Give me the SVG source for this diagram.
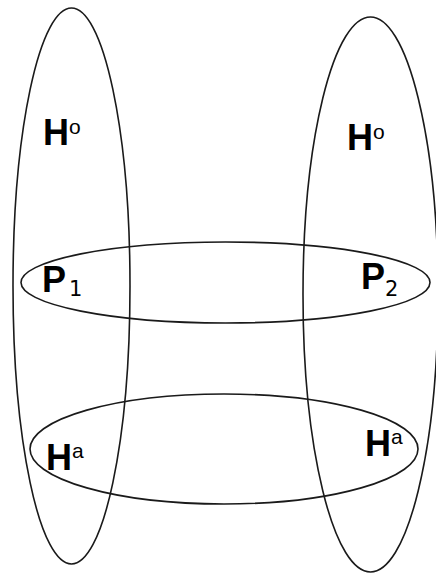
<svg xmlns="http://www.w3.org/2000/svg" width="436" height="574" viewBox="0 0 436 574">
<style>
.e{fill:none;stroke:#1a1a1a;stroke-width:1.6}
.t{font-family:"Liberation Sans",Arial,sans-serif;font-weight:bold;font-size:36px;fill:#000}
.sup{font-family:"Liberation Sans",Arial,sans-serif;font-weight:normal;font-size:21px}
.sub{font-family:"DejaVu Sans",sans-serif;font-weight:normal;font-size:21px}
</style>
<rect width="436" height="574" fill="#fff"/>
<g id="H0-left">
<ellipse class="e" cx="71.5" cy="286" rx="58.5" ry="278"/>
<text class="t" x="43" y="145">H<tspan class="sup" dy="-11">o</tspan></text>
</g>
<g id="H0-right">
<ellipse class="e" cx="370.5" cy="294.5" rx="67.5" ry="277.5"/>
<text class="t" x="347" y="150">H<tspan class="sup" dy="-11">o</tspan></text>
</g>
<g id="P">
<ellipse class="e" cx="225.5" cy="282.5" rx="204.5" ry="40.5"/>
<text class="t" x="42" y="292">P<tspan class="sub" dx="3" dy="4">1</tspan></text>
<text class="t" x="361" y="289">P<tspan class="sub" dy="7">2</tspan></text>
</g>
<g id="Ha">
<ellipse class="e" cx="224" cy="449" rx="194" ry="55"/>
<text class="t" x="46" y="470">H<tspan class="sup" dy="-12">a</tspan></text>
<text class="t" x="365" y="456">H<tspan class="sup" dy="-12">a</tspan></text>
</g>
<g id="connectors"/>
</svg>
